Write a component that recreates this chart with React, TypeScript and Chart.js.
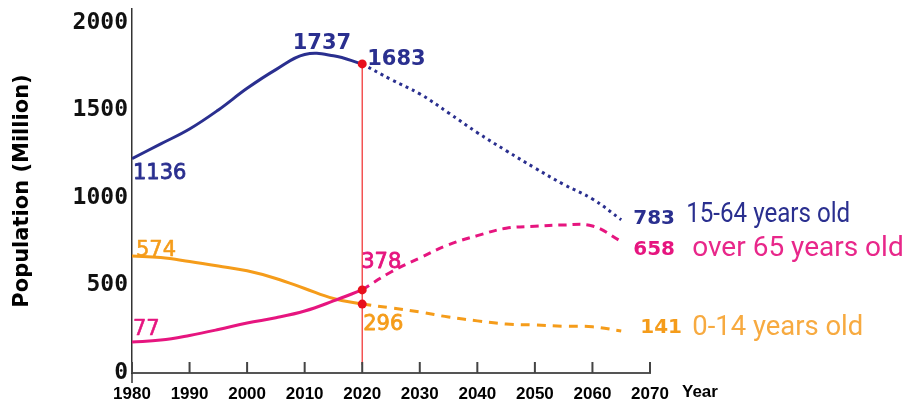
import { useEffect, useRef } from 'react';
import { Chart, registerables } from 'chart.js';

Chart.register(...registerables);

// ---- data ----
const historyYears = [1980, 1985, 1990, 1995, 2000, 2005, 2010, 2015, 2020];
const projectionYears = [2020, 2025, 2030, 2035, 2040, 2045, 2050, 2055, 2060, 2065];

const workingAgeHistory = [1136, 1221, 1307, 1417, 1542, 1650, 1737, 1730, 1683];
const workingAgeProjection = [1683, 1593, 1510, 1400, 1286, 1182, 1082, 987, 903, 783];

const elderlyHistory = [77, 88, 115, 149, 187, 217, 256, 314, 378];
const elderlyProjection = [378, 481, 562, 639, 691, 734, 745, 753, 747, 658];

const childHistory = [574, 565, 542, 516, 488, 444, 386, 328, 296];
const childProjection = [296, 274, 250, 221, 199, 181, 175, 168, 165, 141];

const yearTicks = [1980, 1990, 2000, 2010, 2020, 2030, 2040, 2050, 2060, 2070];
const populationTicks = [0, 500, 1000, 1500, 2000];
const seriesNames = ['15-64 years old', 'over 65 years old', '0-14 years old'];
const axisTitle = 'Population (Million)';
const xAxisName = 'Year';
const markerYear = 2020;

// ---- styles ----
const NAVY = '#2a2f8f';
const PINK = '#e6157f';
const ORANGE = '#f59c1a';
const RED = '#e8101e';

const toPoints = (years: number[], values: number[]) => years.map((x, i) => ({ x, y: values[i] }));
const last = <T,>(a: T[]) => a[a.length - 1];

type LabelSpec = {
  text: string;
  year: number;
  value: number;
  dx: number;
  dy: number;
  color: string;
  font: string;
  stroke?: number;
  maxWidth?: number;
};

function buildLabels(): LabelSpec[] {
  const peakIdx = workingAgeHistory.indexOf(Math.max(...workingAgeHistory));
  const endYear = last(projectionYears);
  const num = (w: string, s: number) => `${w} ${s}px "DejaVu Sans"`;
  const legendFont = '28px Roboto';
  return [
    { text: String(workingAgeHistory[0]), year: historyYears[0], value: workingAgeHistory[0], dx: 1, dy: 20, color: NAVY, font: num('normal', 21), stroke: 0.8 },
    { text: String(workingAgeHistory[peakIdx]), year: historyYears[peakIdx], value: workingAgeHistory[peakIdx], dx: -12, dy: -6, color: NAVY, font: num('bold', 21) },
    { text: String(last(workingAgeHistory)), year: markerYear, value: last(workingAgeHistory), dx: 5, dy: 1, color: NAVY, font: num('bold', 21) },
    { text: String(childHistory[0]), year: historyYears[0], value: childHistory[0], dx: 4, dy: 0, color: ORANGE, font: num('normal', 21), stroke: 0.6 },
    { text: String(elderlyHistory[0]), year: historyYears[0], value: elderlyHistory[0], dx: 1, dy: -7, color: PINK, font: num('normal', 21), stroke: 0.6 },
    { text: String(last(elderlyHistory)), year: markerYear, value: last(elderlyHistory), dx: -1, dy: -22, color: PINK, font: num('normal', 21), stroke: 0.8 },
    { text: String(last(childHistory)), year: markerYear, value: last(childHistory), dx: 1, dy: 26, color: ORANGE, font: num('normal', 21), stroke: 0.8 },
    { text: String(last(workingAgeProjection)), year: endYear, value: last(workingAgeProjection), dx: 12, dy: 4, color: NAVY, font: num('bold', 20) },
    { text: String(last(elderlyProjection)), year: endYear, value: last(elderlyProjection), dx: 12, dy: 14, color: PINK, font: num('bold', 20) },
    { text: String(last(childProjection)), year: endYear, value: last(childProjection), dx: 19, dy: 2, color: ORANGE, font: num('bold', 20) },
    { text: seriesNames[0], year: endYear, value: last(workingAgeProjection), dx: 65, dy: 2, color: NAVY, font: legendFont, maxWidth: 164 },
    { text: seriesNames[1], year: endYear, value: last(elderlyProjection), dx: 71, dy: 15, color: '#e8278a', font: legendFont, maxWidth: 214 },
    { text: seriesNames[2], year: endYear, value: last(childProjection), dx: 71, dy: 4, color: '#f7aa40', font: legendFont, maxWidth: 171 },
  ];
}

const overlayPlugin = {
  id: 'overlay',
  beforeDatasetsDraw(chart: any) {
    const { ctx, chartArea, scales } = chart;
    const x = scales.x;
    const yd = scales.yData;
    ctx.save();
    // 2020 marker line
    const mx = x.getPixelForValue(markerYear);
    ctx.strokeStyle = '#f23a3a';
    ctx.lineWidth = 1.3;
    ctx.beginPath();
    ctx.moveTo(mx, yd.getPixelForValue(last(workingAgeHistory)));
    ctx.lineTo(mx, chartArea.bottom - 8);
    ctx.stroke();
    // x tick marks above axis
    ctx.strokeStyle = '#444';
    ctx.lineWidth = 2;
    ctx.beginPath();
    for (const yr of yearTicks) {
      const px = x.getPixelForValue(yr);
      ctx.moveTo(px, chartArea.bottom - 11);
      ctx.lineTo(px, chartArea.bottom);
    }
    ctx.stroke();
    // y axis extension below x axis
    ctx.strokeStyle = '#333';
    ctx.lineWidth = 1.5;
    ctx.beginPath();
    ctx.moveTo(chartArea.left, chartArea.bottom);
    ctx.lineTo(chartArea.left, chartArea.bottom + 10);
    ctx.stroke();
    ctx.restore();
  },
  afterDatasetsDraw(chart: any) {
    const { ctx, chartArea, scales } = chart;
    ctx.save();
    ctx.textBaseline = 'alphabetic';
    ctx.textAlign = 'left';
    ctx.lineJoin = 'round';
    for (const l of buildLabels()) {
      const px = scales.x.getPixelForValue(l.year) + l.dx;
      const py = scales.yData.getPixelForValue(l.value) + l.dy;
      ctx.font = l.font;
      ctx.fillStyle = l.color;
      if (l.maxWidth) ctx.fillText(l.text, px, py, l.maxWidth);
      else ctx.fillText(l.text, px, py);
      if (l.stroke) {
        ctx.strokeStyle = l.color;
        ctx.lineWidth = l.stroke;
        ctx.strokeText(l.text, px, py);
      }
    }
    // "Year" after the last tick label
    ctx.font = 'bold 17px "Liberation Sans"';
    ctx.fillStyle = '#000';
    ctx.textBaseline = 'top';
    ctx.fillText(xAxisName, scales.x.getPixelForValue(last(yearTicks)) + 32, chartArea.bottom + 11);
    ctx.restore();
  },
};

export default function App() {
  const ref = useRef<HTMLCanvasElement>(null);
  useEffect(() => {
    const canvas = ref.current;
    if (!canvas) return;
    const lineBase = {
      pointRadius: 0,
      pointHoverRadius: 0,
      fill: false,
      tension: 0.4,
      yAxisID: 'yData',
      order: 1,
    };
    const chart = new Chart(canvas, {
      type: 'line',
      data: {
        datasets: [
          {
            label: 'markers',
            data: [
              { x: markerYear, y: last(workingAgeHistory) },
              { x: markerYear, y: last(elderlyHistory) },
              { x: markerYear, y: last(childHistory) },
            ],
            showLine: false,
            pointRadius: 4.5,
            pointBackgroundColor: RED,
            pointBorderColor: RED,
            pointBorderWidth: 0,
            yAxisID: 'yData',
            order: 0,
          },
          { ...lineBase, label: seriesNames[0], data: toPoints(historyYears, workingAgeHistory), borderColor: NAVY, borderWidth: 3 },
          { ...lineBase, label: seriesNames[0] + ' (projection)', data: toPoints(projectionYears, workingAgeProjection), borderColor: NAVY, borderWidth: 3, borderDash: [3, 4] },
          { ...lineBase, label: seriesNames[1], data: toPoints(historyYears, elderlyHistory), borderColor: PINK, borderWidth: 3 },
          { ...lineBase, label: seriesNames[1] + ' (projection)', data: toPoints(projectionYears, elderlyProjection), borderColor: PINK, borderWidth: 3, borderDash: [8, 6] },
          { ...lineBase, label: seriesNames[2], data: toPoints(historyYears, childHistory), borderColor: ORANGE, borderWidth: 3 },
          { ...lineBase, label: seriesNames[2] + ' (projection)', data: toPoints(projectionYears, childProjection), borderColor: ORANGE, borderWidth: 3, borderDash: [9, 7] },
        ] as any,
      },
      options: {
        responsive: false,
        animation: false,
        events: [],
        layout: { padding: { left: 0, right: 260, top: 9, bottom: 0 } },
        plugins: { legend: { display: false }, tooltip: { enabled: false } },
        scales: {
          x: {
            type: 'linear',
            min: yearTicks[0],
            max: last(yearTicks),
            afterBuildTicks: (s: any) => { s.ticks = yearTicks.map((v) => ({ value: v })); },
            afterFit: (s: any) => { s.height = 30; s.paddingLeft = 0; s.paddingRight = 0; },
            grid: { display: false, drawTicks: false },
            border: { display: true, color: '#555', width: 2 },
            ticks: {
              autoSkip: false,
              maxRotation: 0,
              padding: 11,
              color: '#000',
              font: { family: '"Liberation Sans"', size: 17, weight: 'bold' },
              callback: (v: any) => String(v),
            },
          },
          y: {
            type: 'linear',
            position: 'left',
            min: 0,
            max: 2080,
            afterBuildTicks: (s: any) => { s.ticks = populationTicks.map((v) => ({ value: v })); },
            afterFit: (s: any) => { s.width = 132; s.paddingTop = 0; s.paddingBottom = 0; },
            grid: { display: false, drawTicks: false },
            border: { display: true, color: '#333', width: 1.5 },
            ticks: {
              padding: 4,
              color: '#111',
              font: { family: '"DejaVu Sans Mono"', size: 23, weight: 'bold' },
              callback: (v: any) => String(v),
            },
            title: {
              display: true,
              text: axisTitle,
              color: '#000',
              font: { family: '"DejaVu Sans"', size: 21, weight: 'bold' },
              padding: { top: 10, bottom: 0 },
            },
          },
          yData: {
            type: 'linear',
            position: 'right',
            display: false,
            min: -102,
            max: 2000,
          },
        },
      },
      plugins: [overlayPlugin],
    } as any);
    return () => chart.destroy();
  }, []);
  return (
    <div style={{ position: 'fixed', left: 0, top: 0, width: 910, height: 403, background: '#fff' }}>
      <canvas ref={ref} width={910} height={403} style={{ display: 'block' }} />
    </div>
  );
}
